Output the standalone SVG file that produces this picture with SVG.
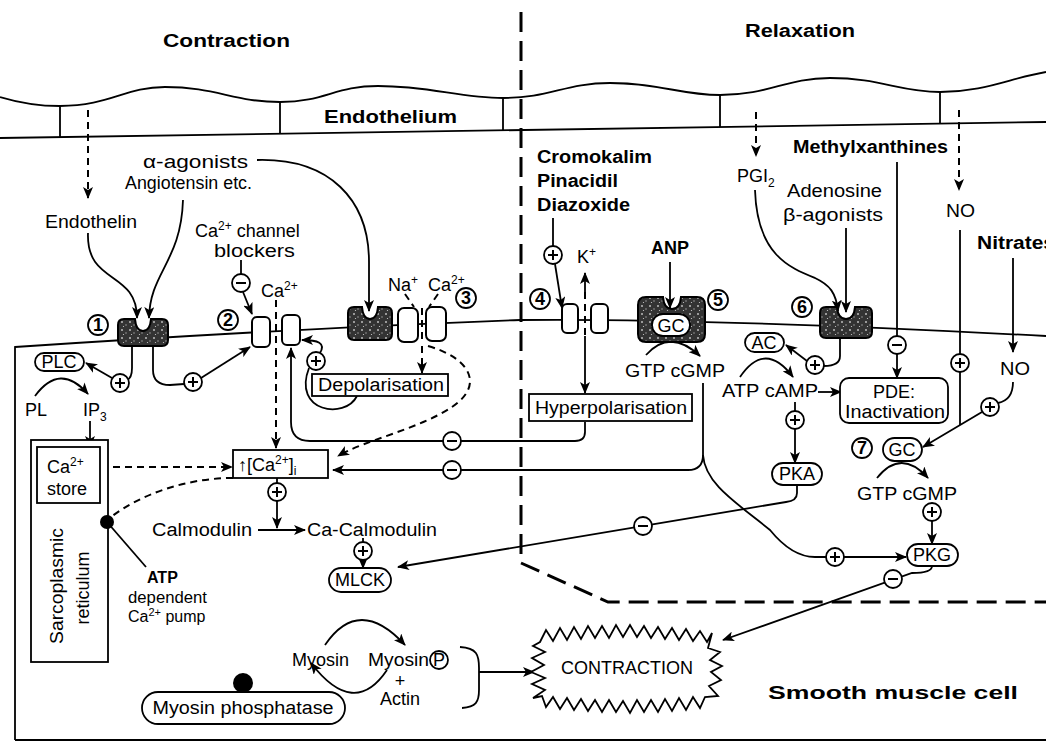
<svg xmlns="http://www.w3.org/2000/svg" width="1046" height="742" viewBox="0 0 1046 742">
<style>
text{font-family:"Liberation Sans",Arial,Helvetica,sans-serif;fill:#000;font-size:18px}
.b{font-weight:bold}
.s{font-size:16px}
.m{text-anchor:middle}
.ln{fill:none;stroke:#000;stroke-width:1.8}
.ds{fill:none;stroke:#000;stroke-width:2;stroke-dasharray:7 5}
.ar{marker-end:url(#ah)}
.box{fill:#fff;stroke:#000;stroke-width:1.8}
.rec{fill:url(#spk);stroke:#000;stroke-width:2}
.ch{fill:#fff;stroke:#000;stroke-width:2}
.sup{font-size:12px}
</style>
<defs>
<marker id="ah" viewBox="0 0 12 10" refX="11" refY="5" markerWidth="12" markerHeight="10" markerUnits="userSpaceOnUse" orient="auto"><path d="M0,0 L12,5 L0,10 L3,5 Z" fill="#000"/></marker>
<pattern id="spk" width="8" height="8" patternUnits="userSpaceOnUse"><rect width="8" height="8" fill="#333"/><circle cx="2" cy="2" r="1" fill="#bbb"/><circle cx="6" cy="5" r="0.8" fill="#999"/><circle cx="3.5" cy="6.5" r="0.6" fill="#ccc"/></pattern>
<g id="plus"><circle r="9" fill="#fff" stroke="#000" stroke-width="1.8"/><path d="M-5,0H5M0,-5V5" stroke="#000" stroke-width="2"/></g>
<g id="minus"><circle r="9" fill="#fff" stroke="#000" stroke-width="1.8"/><path d="M-5,0H5" stroke="#000" stroke-width="2"/></g>
</defs>
<rect width="1046" height="742" fill="#fff"/>

<g id="headings">
<text class="b" x="163" y="47" textLength="127" lengthAdjust="spacingAndGlyphs">Contraction</text>
<text class="b" x="745" y="37" textLength="110" lengthAdjust="spacingAndGlyphs">Relaxation</text>
</g>

<g id="endothelium">
<path class="ln" stroke-width="2.2" d="M0,97 Q30,106 60,106 C110,106 125,87 165,87 C215,87 235,102 280,102 C325,102 335,86 378,86 C430,86 460,98 503,98 C550,98 565,83 610,83 C660,83 680,95 720,95 C770,95 785,78 830,78 C880,78 900,92 940,92 C985,92 1010,78 1046,72"/>
<path class="ln" stroke-width="2.5" d="M0,138 L1046,122"/>
<path class="ln" d="M60,106 V137 M280,102 V134 M503,98 V130 M720,95 V127 M940,92 V124"/>
<text class="b" x="324" y="123" textLength="133" lengthAdjust="spacingAndGlyphs">Endothelium</text>
</g>

<g id="boundary">
<path d="M521,12 L521,563 L608,602 L1046,602" fill="none" stroke="#000" stroke-width="3" stroke-dasharray="20 9"/>
</g>

<g id="cell">
<path class="ln" stroke-width="2" d="M15,740 L15,347 Q300,328 520,320 Q700,318 1046,336"/>
<path class="ln" stroke-width="2" d="M15,740 L1046,740"/>
</g>

<g id="connectors">
<path class="ds ar" d="M88,110 L88,198"/>
<path class="ds ar" d="M756,112 L756,156"/>
<path class="ds ar" d="M959,110 L959,190"/>
<path class="ln ar" d="M88,233 C86,285 137,270 137,318"/>
<path class="ln ar" d="M183,200 C181,262 150,272 149,318"/>
<path class="ln ar" d="M257,160 C330,158 369,200 369,262 L369,311"/>
<path class="ln" d="M241,260 L241,274"/>
<path class="ln ar" d="M243,292 L252,314"/>
<path class="ds ar" d="M276,300 L276,448"/>
<path class="ds" stroke-dasharray="4 3" d="M405,294 L414,307 M438,294 L429,307"/>
<path class="ds" stroke-dasharray="4 3" d="M422,308 L422,343"/>
<path class="ds ar" d="M422,346 L422,373"/>
<path class="ds ar" d="M428,346 C470,358 485,385 452,407 S365,440 338,456"/>
<path class="ln" d="M357,396 C345,420 292,412 309,368"/>
<path class="ln ar" d="M320,353 C326,343 318,340 302,340"/>
<path class="ln" d="M132,346 L132,368 Q132,378 127,380"/>
<path class="ln ar" d="M112,378 L86,363"/>
<path class="ln" d="M153,346 L153,370 Q153,385 170,385 L184,384"/>
<path class="ln ar" d="M201,378 L250,347"/>
<path class="ln ar" d="M35,396 Q60,362 88,394"/>
<path class="ln ar" d="M90,421 L90,447"/>
<path class="ds ar" d="M101,467 L232,467"/>
<path class="ds" d="M233,478 C185,478 140,495 111,517"/>
<path class="ds ar" d="M96,528 L74,504"/>
<path class="ln" d="M107,522 L146,567"/>
<path class="ln" d="M277,478 L277,483"/>
<path class="ln ar" d="M277,501 L277,528"/>
<path class="ln ar" d="M258,530 L305,530"/>
<path class="ln" d="M363,538 L363,542"/>
<path class="ln ar" d="M363,560 L363,568"/>
<path class="ln ar" d="M585,422 L585,432 Q585,441 575,441 L310,441 Q291,441 291,422 L291,348"/>
<path class="ln ar" d="M703,383 L703,455 Q703,470 688,470 L333,470"/>
<path class="ln ar" d="M703,455 C705,485 740,505 770,530 Q792,557 815,557 L906,557"/>
<path class="ln ar" d="M797,486 L797,493 Q797,501 786,502 L398,567"/>
<path class="ln ar" d="M932,566 Q932,573 912,573 L723,640"/>
<path class="ln ar" d="M646,355 Q670,328 700,356"/>
<path class="ln ar" d="M670,262 L670,308"/>
<path class="ln" d="M553,218 L553,246"/>
<path class="ln ar" d="M555,264 L562,308"/>
<path class="ln ar" d="M585,292 L585,273"/>
<path class="ds" stroke-dasharray="4 3" d="M585,292 L585,335"/>
<path class="ln ar" d="M585,336 L585,393"/>
<path class="ln ar" d="M755,190 C757,255 790,268 815,278 C830,285 836,293 838,311"/>
<path class="ln ar" d="M846,228 L846,312"/>
<path class="ln" d="M897,162 L897,336"/>
<path class="ln ar" d="M897,354 L897,378"/>
<path class="ln" d="M960,230 L960,354 M960,372 L960,425"/>
<path class="ln ar" d="M1013,258 L1013,352"/>
<path class="ln" d="M1013,382 Q1013,400 998,403"/>
<path class="ln ar" d="M982,412 L923,447"/>
<path class="ln" d="M840,339 L840,356 Q840,366 824,366"/>
<path class="ln ar" d="M807,361 L786,345"/>
<path class="ln ar" d="M740,377 Q765,340 793,377"/>
<path class="ln ar" d="M818,392 L841,392"/>
<path class="ln" d="M795,402 L795,411"/>
<path class="ln ar" d="M795,429 L795,463"/>
<path class="ln ar" d="M877,478 Q901,448 928,478"/>
<path class="ln ar" d="M932,521 L932,544"/>
<path class="ln ar" d="M325,645 Q359,595 405,645"/>
<path class="ln ar" d="M387,670 Q354,719 311,663"/>
<path class="ln" d="M460,647 C477,648 479,655 479,668 L479,690 C479,702 476,707 462,708"/>
<path class="ln ar" d="M479,672 L534,672"/>
</g>

<g id="signs">
<use href="#minus" x="241" y="283"/>
<use href="#plus" x="553" y="255"/>
<use href="#plus" x="120" y="383"/>
<use href="#plus" x="193" y="382"/>
<use href="#plus" x="316" y="361"/>
<use href="#minus" x="452" y="441"/>
<use href="#minus" x="452" y="470"/>
<use href="#plus" x="277" y="492"/>
<use href="#plus" x="363" y="551"/>
<use href="#minus" x="643" y="526"/>
<use href="#plus" x="815" y="365"/>
<use href="#minus" x="897" y="345"/>
<use href="#plus" x="960" y="363"/>
<use href="#plus" x="990" y="407"/>
<use href="#plus" x="795" y="420"/>
<use href="#plus" x="932" y="512"/>
<use href="#plus" x="835" y="557"/>
<use href="#minus" x="893" y="579"/>
</g>

<g id="numbers" font-weight="bold">
<g><circle cx="98" cy="325" r="10" class="box"/><text class="m" x="98" y="331" font-size="15">1</text></g>
<g><circle cx="228" cy="320" r="10" class="box"/><text class="m" x="228" y="326" font-size="15">2</text></g>
<g><circle cx="466" cy="298" r="10" class="box"/><text class="m" x="466" y="304" font-size="15">3</text></g>
<g><circle cx="540" cy="299" r="10" class="box"/><text class="m" x="540" y="305" font-size="15">4</text></g>
<g><circle cx="718" cy="300" r="10" class="box"/><text class="m" x="718" y="306" font-size="15">5</text></g>
<g><circle cx="802" cy="307" r="10" class="box"/><text class="m" x="802" y="313" font-size="15">6</text></g>
<g><circle cx="862" cy="448" r="10" class="box"/><text class="m" x="862" y="454" font-size="15">7</text></g>
</g>

<g id="receptor1"><path class="rec" d="M124,319 L135,319 Q136,331 143,331 Q150,331 151,319 L162,319 Q168,319 168,325 L168,340 Q168,346 162,346 L124,346 Q118,346 118,340 L118,325 Q118,319 124,319 Z"/></g>
<g id="channel2"><rect class="ch" x="252" y="317" width="18" height="30" rx="5"/><rect class="ch" x="282" y="315" width="18" height="30" rx="5"/></g>
<g id="receptor3"><path class="rec" d="M354,307 L362,307 Q363,319 370,319 Q377,319 378,307 L386,307 Q392,307 392,313 L392,334 Q392,340 386,340 L354,340 Q348,340 348,334 L348,313 Q348,307 354,307 Z"/></g>
<g id="channel3"><rect class="ch" x="398" y="308" width="20" height="34" rx="6"/><rect class="ch" x="426" y="307" width="20" height="34" rx="6"/></g>
<g id="channel4"><rect class="ch" x="562" y="304" width="16" height="29" rx="5"/><rect class="ch" x="591" y="304" width="17" height="29" rx="5"/></g>
<g id="receptor5"><path class="rec" d="M646,297 L663,297 Q664,309 672,309 Q680,309 681,297 L697,297 Q705,297 705,305 L705,334 Q705,342 697,342 L646,342 Q638,342 638,334 L638,305 Q638,297 646,297 Z"/><rect class="box" x="652" y="314" width="38" height="22" rx="11" stroke-width="2"/><text class="m" x="671" y="332">GC</text></g>
<g id="receptor6"><path class="rec" d="M826,307 L837,307 Q838,319 846,319 Q854,319 855,307 L866,307 Q872,307 872,313 L872,332 Q872,338 866,338 L826,338 Q820,338 820,332 L820,313 Q820,307 826,307 Z"/></g>

<g id="labels-contraction">
<text x="143" y="168" textLength="105" lengthAdjust="spacingAndGlyphs">α-agonists</text>
<text x="125" y="189" textLength="127" lengthAdjust="spacingAndGlyphs">Angiotensin etc.</text>
<text x="45" y="228" textLength="92" lengthAdjust="spacingAndGlyphs">Endothelin</text>
<text x="195" y="237" font-size="19">Ca<tspan class="sup" dy="-7">2+</tspan><tspan dy="7"> channel</tspan></text>
<text x="214" y="257" textLength="81" lengthAdjust="spacingAndGlyphs">blockers</text>
<text x="261" y="297">Ca<tspan class="sup" dy="-7">2+</tspan></text>
<text x="388" y="291">Na<tspan class="sup" dy="-7">+</tspan></text>
<text x="428" y="291">Ca<tspan class="sup" dy="-7">2+</tspan></text>
</g>

<g id="labels-relaxation">
<text class="b" x="537" y="163" textLength="115" lengthAdjust="spacingAndGlyphs">Cromokalim</text>
<text class="b" x="537" y="187" textLength="81" lengthAdjust="spacingAndGlyphs">Pinacidil</text>
<text class="b" x="537" y="211" textLength="93" lengthAdjust="spacingAndGlyphs">Diazoxide</text>
<text x="577" y="263">K<tspan class="sup" dy="-7">+</tspan></text>
<text class="b" x="651" y="254" textLength="38" lengthAdjust="spacingAndGlyphs">ANP</text>
<text x="737" y="182">PGI<tspan class="sup" dy="5">2</tspan></text>
<text class="b" x="793" y="153" textLength="155" lengthAdjust="spacingAndGlyphs">Methylxanthines</text>
<text x="787" y="197" textLength="95" lengthAdjust="spacingAndGlyphs">Adenosine</text>
<text x="783" y="221" textLength="100" lengthAdjust="spacingAndGlyphs">β-agonists</text>
<text x="946" y="217" textLength="29" lengthAdjust="spacingAndGlyphs">NO</text>
<text class="b" x="977" y="249" textLength="78" lengthAdjust="spacingAndGlyphs">Nitrates</text>
<text x="1000" y="375" textLength="30" lengthAdjust="spacingAndGlyphs">NO</text>
<text x="625" y="377" textLength="100" lengthAdjust="spacingAndGlyphs">GTP cGMP</text>
<text x="722" y="397" textLength="96" lengthAdjust="spacingAndGlyphs">ATP cAMP</text>
<text x="857" y="500" textLength="100" lengthAdjust="spacingAndGlyphs">GTP cGMP</text>
</g>

<g id="depolarisation"><rect class="box" x="312" y="374" width="136" height="22"/><text x="318" y="391" textLength="126" lengthAdjust="spacingAndGlyphs">Depolarisation</text></g>
<g id="hyperpolarisation"><rect class="box" x="529" y="394" width="163" height="27"/><text x="535" y="414" textLength="152" lengthAdjust="spacingAndGlyphs">Hyperpolarisation</text></g>
<g id="pde"><rect class="box" x="840" y="378" width="108" height="45" rx="9"/><text class="m" x="894" y="398">PDE:</text><text x="845" y="418" textLength="100" lengthAdjust="spacingAndGlyphs">Inactivation</text></g>
<g id="ac"><rect class="box" x="745" y="333" width="39" height="19" rx="9.5"/><text class="m" x="764" y="349">AC</text></g>
<g id="pka"><rect class="box" x="772" y="463" width="50" height="22" rx="11"/><text class="m" x="797" y="480">PKA</text></g>
<g id="gc7"><rect class="box" x="883" y="438" width="39" height="23" rx="11.5"/><text class="m" x="902" y="456">GC</text></g>
<g id="pkg"><rect class="box" x="907" y="544" width="51" height="22" rx="11"/><text class="m" x="932" y="561">PKG</text></g>

<g id="plc"><rect class="box" x="35" y="353" width="49" height="18" rx="9"/><text class="m" x="59" y="368" font-size="16">PLC</text></g>
<g id="pl-ip3"><text x="25" y="416">PL</text><text x="83" y="416">IP<tspan class="sup" dy="5">3</tspan></text></g>

<g id="sarcoplasmic-reticulum">
<rect class="box" x="31" y="440" width="77" height="222"/>
<rect class="box" x="37" y="447" width="63" height="56"/>
<text x="47" y="473">Ca<tspan class="sup" dy="-7">2+</tspan></text>
<text x="47" y="495">store</text>
<text class="m" transform="translate(63,586) rotate(-90)" textLength="116" lengthAdjust="spacingAndGlyphs">Sarcoplasmic</text>
<text class="m" transform="translate(89,588) rotate(-90)" textLength="73" lengthAdjust="spacingAndGlyphs">reticulum</text>
<circle cx="107" cy="522" r="7" fill="#000"/>
</g>
<g id="pump-label">
<text class="b s" x="147" y="583">ATP</text>
<text class="s" x="128" y="603" textLength="79" lengthAdjust="spacingAndGlyphs">dependent</text>
<text class="s" x="128" y="622">Ca<tspan font-size="11" dy="-6">2+</tspan><tspan dy="6"> pump</tspan></text>
</g>

<g id="ca-i"><rect class="box" x="233" y="450" width="95" height="28"/><text x="238" y="471">↑[Ca<tspan class="sup" dy="-7">2+</tspan><tspan dy="7">]</tspan><tspan class="sup" dy="4">i</tspan></text></g>
<g id="calmodulin"><text x="152" y="536" textLength="100" lengthAdjust="spacingAndGlyphs">Calmodulin</text><text x="307" y="536" textLength="130" lengthAdjust="spacingAndGlyphs">Ca-Calmodulin</text></g>
<g id="mlck"><rect class="box" x="329" y="568" width="62" height="24" rx="12"/><text class="m" x="360" y="586">MLCK</text></g>
<g id="myosin">
<text x="292" y="666" textLength="57" lengthAdjust="spacingAndGlyphs">Myosin</text>
<text x="368" y="666" textLength="61" lengthAdjust="spacingAndGlyphs">Myosin</text>
<circle class="box" cx="439" cy="660" r="9"/><text class="m" x="439" y="666" font-size="15">P</text>
<text class="m" x="400" y="687">+</text>
<text class="m" x="400" y="705">Actin</text>
</g>
<g id="myosin-phosphatase"><circle cx="243" cy="683" r="10" fill="#000"/><rect class="box" x="142" y="692" width="203" height="32" rx="16"/><text class="m" x="243" y="714" textLength="181" lengthAdjust="spacingAndGlyphs">Myosin phosphatase</text></g>

<g id="contraction">
<polygon class="box" points="540,642 546,630 553,641 560,628 567,640 574,627 581,639 588,626 595,638 602,626 609,638 616,625 623,637 630,625 637,637 644,626 651,638 658,627 665,639 672,628 679,640 686,629 693,641 700,631 707,642 712,633 708,648 720,652 710,660 722,666 711,672 721,680 709,686 718,696 705,697 700,708 693,697 686,710 679,698 672,711 665,699 658,712 651,700 644,712 637,700 630,713 623,701 616,712 609,700 602,712 595,700 588,711 581,699 574,710 567,698 560,709 553,697 546,707 542,696 533,698 545,690 532,684 545,678 531,672 544,665 532,658 545,652 533,646"/>
<text class="m" x="627" y="674" font-size="16">CONTRACTION</text>
</g>
<g id="cell-label"><text class="b" x="768" y="699" font-size="21" textLength="250" lengthAdjust="spacingAndGlyphs">Smooth muscle cell</text></g>
</svg>
